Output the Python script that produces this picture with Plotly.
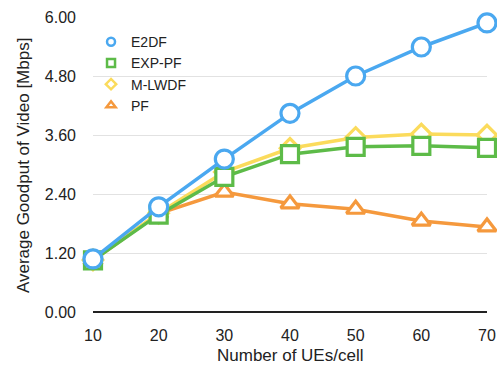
import plotly.graph_objects as go

ues = [10, 20, 30, 40, 50, 60, 70]
e2df = [1.08, 2.14, 3.11, 4.04, 4.80, 5.39, 5.88]
exp_pf = [1.05, 1.98, 2.75, 3.21, 3.36, 3.38, 3.34]
m_lwdf = [1.06, 2.01, 2.85, 3.33, 3.55, 3.62, 3.60]
pf = [1.05, 2.00, 2.44, 2.20, 2.09, 1.85, 1.73]

y_ticks = [0.0, 1.2, 2.4, 3.6, 4.8, 6.0]
y_labels = ["0.00", "1.20", "2.40", "3.60", "4.80", "6.00"]

series = [
    ("PF", pf, "#F5993D", "triangle-up", 16),
    ("M-LWDF", m_lwdf, "#FBDB5C", "diamond", 15),
    ("EXP-PF", exp_pf, "#5DBB48", "square", 17),
    ("E2DF", e2df, "#4AA8F0", "circle", 18),
]

fig = go.Figure()
for name, vals, color, sym, size in series:
    fig.add_trace(go.Scatter(
        x=ues, y=vals, name=name, mode="lines+markers", showlegend=False,
        line=dict(color=color, width=3.5),
        marker=dict(symbol=sym, size=size, color="white",
                    line=dict(color=color, width=3.2)),
        cliponaxis=False,
    ))
# legend entries (markers only, small)
for name, vals, color, sym, size in series:
    fig.add_trace(go.Scatter(
        x=[None], y=[None], name=name, mode="markers", showlegend=True,
        marker=dict(symbol=sym, size=8, color="white",
                    line=dict(color=color, width=2.5)),
    ))

fig.update_layout(
    width=497, height=369,
    margin=dict(l=93, r=10, t=17, b=57),
    paper_bgcolor="white", plot_bgcolor="white",
    font=dict(family="Liberation Sans, Arial, sans-serif", size=16, color="#222"),
    showlegend=True,
    legend=dict(x=-0.005, y=0.969, xanchor="left", yanchor="top",
                traceorder="reversed", bgcolor="rgba(0,0,0,0)",
                font=dict(size=14), itemsizing="trace", tracegroupgap=0),
    xaxis=dict(range=[10, 70], tickvals=ues, showgrid=False, zeroline=False,
               showline=False, ticks="", ticklen=0, automargin=False,
               ticklabelstandoff=12, tickfont=dict(size=16)),
    yaxis=dict(range=[0, 6.0], tickvals=y_ticks, ticktext=y_labels,
               showgrid=True, gridcolor="#E2E2E2", gridwidth=1,
               zeroline=True, zerolinecolor="#222", zerolinewidth=2,
               showline=False, ticks="", ticklabelstandoff=16, automargin=False,
               tickfont=dict(size=16)),
    annotations=[
        dict(text="Average Goodput of Video [Mbps]", textangle=-90,
             xref="paper", yref="paper", x=(23 - 93) / 394, y=0.498,
             xanchor="center", yanchor="middle", showarrow=False,
             font=dict(size=17)),
        dict(text="Number of UEs/cell",
             xref="paper", yref="paper", x=0.5, y=-0.149,
             xanchor="center", yanchor="middle", showarrow=False,
             font=dict(size=17)),
    ],
)

fig.write_html("out.html",
               config={"displayModeBar": False},
               post_script="document.body.style.margin='0';document.body.style.overflow='hidden';")
